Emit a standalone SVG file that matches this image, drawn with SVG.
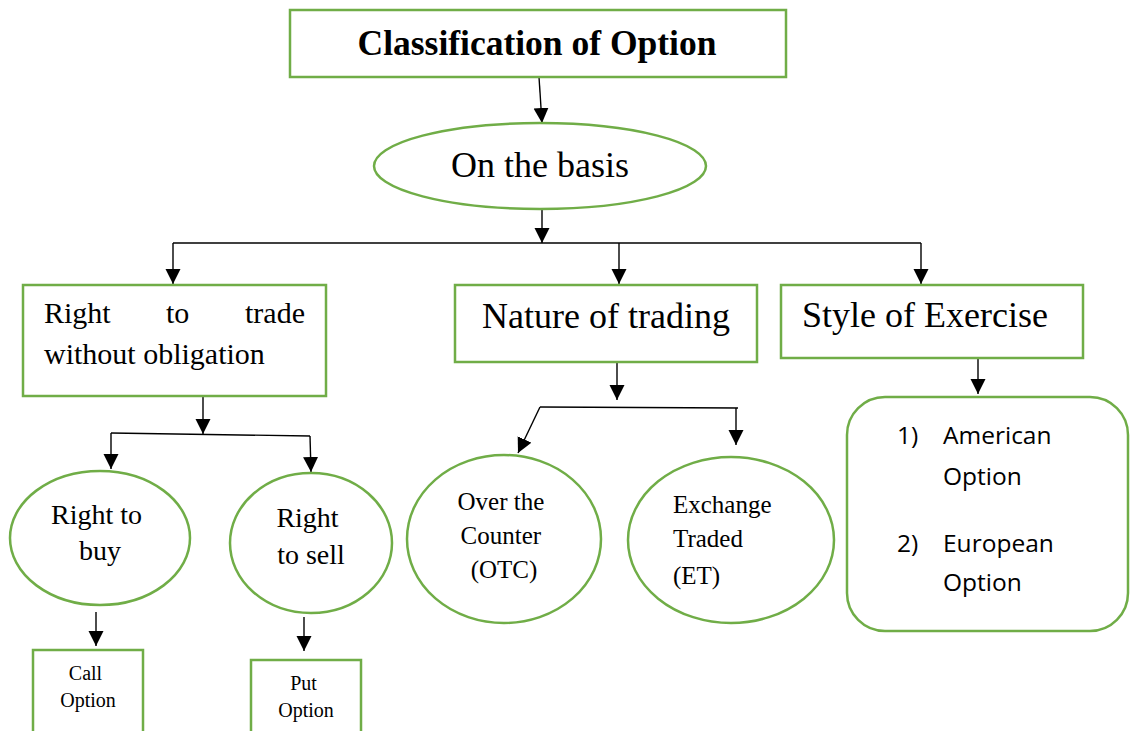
<svg xmlns="http://www.w3.org/2000/svg" width="1130" height="731" viewBox="0 0 1130 731">
  <style>
    .box { fill: #ffffff; stroke: #70ad47; stroke-width: 2.5; }
    .serif { font-family: "Liberation Serif", "Times New Roman", serif; fill: #000; }
    .sans { font-family: "Open Sans", "Noto Sans", "Liberation Sans", sans-serif; fill: #000; }
    .link { fill: none; stroke: #000; stroke-width: 1.4; }
    .arrow { fill: none; stroke: #000; stroke-width: 1.4; marker-end: url(#head); }
  </style>
  <defs>
    <marker id="head" markerUnits="userSpaceOnUse" markerWidth="16" markerHeight="16" refX="15" refY="7.5" orient="auto">
      <path d="M0,0 L15,7.5 L0,15 Z" fill="#000"/>
    </marker>
  </defs>
  <rect width="1130" height="731" fill="#ffffff"/>

  <!-- connectors -->
  <g id="connectors">
    <line class="arrow" x1="539" y1="77" x2="542" y2="123"/>
    <line class="arrow" x1="542" y1="208" x2="542" y2="243"/>
    <line class="link" x1="173" y1="243" x2="921" y2="243"/>
    <line class="arrow" x1="173" y1="243" x2="173" y2="284"/>
    <line class="arrow" x1="619" y1="243" x2="619" y2="284"/>
    <line class="arrow" x1="921" y1="243" x2="921" y2="284"/>

    <line class="arrow" x1="203" y1="396" x2="203" y2="434"/>
    <line class="link" x1="111" y1="433" x2="310" y2="436"/>
    <line class="arrow" x1="111" y1="433" x2="111" y2="469"/>
    <line class="arrow" x1="310" y1="436" x2="311" y2="472"/>

    <line class="arrow" x1="617" y1="362" x2="617" y2="400"/>
    <line class="link" x1="540" y1="407" x2="738" y2="408"/>
    <line class="arrow" x1="540" y1="407" x2="518" y2="453"/>
    <line class="arrow" x1="736" y1="408" x2="736" y2="445"/>

    <line class="arrow" x1="978" y1="358" x2="978" y2="394"/>

    <line class="arrow" x1="96" y1="612" x2="96" y2="646"/>
    <line class="arrow" x1="304" y1="617" x2="304" y2="651"/>
  </g>

  <!-- title -->
  <g id="title">
    <rect class="box" x="290" y="10" width="496" height="67"/>
    <text class="serif" x="537" y="55" font-size="35.5" font-weight="bold" text-anchor="middle">Classification of Option</text>
  </g>

  <g id="basis">
    <ellipse class="box" cx="540" cy="166" rx="166" ry="43"/>
    <text class="serif" x="540" y="177" font-size="36" text-anchor="middle">On the basis</text>
  </g>

  <g id="right-to-trade">
    <rect class="box" x="23" y="285" width="303" height="111"/>
    <text class="serif" font-size="30">
      <tspan x="44" y="323">Right</tspan>
      <tspan x="166" y="323">to</tspan>
      <tspan x="245" y="323">trade</tspan>
      <tspan x="44" y="364">without obligation</tspan>
    </text>
  </g>

  <g id="nature-of-trading">
    <rect class="box" x="455" y="285" width="302" height="77"/>
    <text class="serif" x="606" y="328" font-size="36" text-anchor="middle">Nature of trading</text>
  </g>

  <g id="style-of-exercise">
    <rect class="box" x="781" y="285" width="302" height="73"/>
    <text class="serif" x="802" y="327" font-size="36">Style of Exercise</text>
  </g>

  <g id="right-to-buy">
    <ellipse class="box" cx="100" cy="538" rx="90" ry="67"/>
    <text class="serif" font-size="28" text-anchor="middle">
      <tspan x="100" y="524">Right to</tspan>
      <tspan x="100" y="560">buy</tspan>
    </text>
  </g>

  <g id="right-to-sell">
    <ellipse class="box" cx="311" cy="543" rx="81" ry="70"/>
    <text class="serif" font-size="28" text-anchor="middle">
      <tspan x="311" y="527">Right</tspan>
      <tspan x="311" y="564">to sell</tspan>
    </text>
  </g>

  <g id="call-option">
    <rect class="box" x="33" y="650" width="110" height="90"/>
    <text class="serif" font-size="20" text-anchor="middle">
      <tspan x="88" y="680">Call</tspan>
      <tspan x="88" y="707">Option</tspan>
    </text>
  </g>

  <g id="put-option">
    <rect class="box" x="251" y="660" width="110" height="90"/>
    <text class="serif" font-size="20" text-anchor="middle">
      <tspan x="306" y="690">Put</tspan>
      <tspan x="306" y="717">Option</tspan>
    </text>
  </g>

  <g id="otc">
    <ellipse class="box" cx="504" cy="539" rx="97" ry="84"/>
    <text class="serif" font-size="25" text-anchor="middle">
      <tspan x="504" y="510">Over the</tspan>
      <tspan x="504" y="544">Counter</tspan>
      <tspan x="504" y="578">(OTC)</tspan>
    </text>
  </g>

  <g id="exchange-traded">
    <ellipse class="box" cx="731" cy="540" rx="103" ry="83"/>
    <text class="serif" font-size="25">
      <tspan x="673" y="513">Exchange</tspan>
      <tspan x="673" y="547">Traded</tspan>
      <tspan x="673" y="584">(ET)</tspan>
    </text>
  </g>

  <g id="exercise-styles">
    <rect class="box" x="847" y="397" width="281" height="234" rx="38" ry="38"/>
    <text class="sans" font-size="24.5">
      <tspan x="897" y="444">1)</tspan>
      <tspan x="943" y="444">American</tspan>
      <tspan x="943" y="485">Option</tspan>
      <tspan x="897" y="552">2)</tspan>
      <tspan x="943" y="552">European</tspan>
      <tspan x="943" y="591">Option</tspan>
    </text>
  </g>
</svg>
